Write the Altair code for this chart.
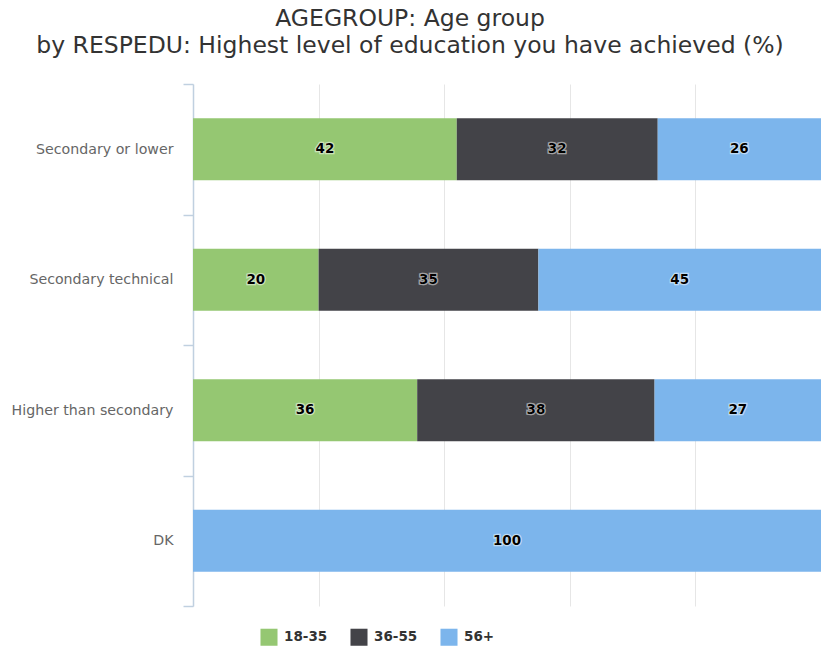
import altair as alt
import pandas as pd

categories = ["Secondary or lower", "Secondary technical", "Higher than secondary", "DK"]
groups = ["18-35", "36-55", "56+"]
colors = ["#95C772", "#434348", "#7CB5EC"]
values = {
    "18-35": [42, 20, 35.7, 0],
    "36-55": [32, 35, 37.8, 0],
    "56+":   [26, 45, 26.5, 100],
}

rows = []
for gi, g in enumerate(groups):
    for ci, c in enumerate(categories):
        v = values[g][ci]
        if v > 0:
            rows.append({"edu": c, "age": g, "value": v, "ord": gi})
df = pd.DataFrame(rows)

base = alt.Chart(df).transform_stack(
    stack="value", groupby=["edu"], as_=["x0", "x1"], offset="normalize",
    sort=[alt.SortField("ord", order="ascending")]
).transform_calculate(
    xm="(datum.x0 + datum.x1) / 2"
)

yscale = alt.Scale(paddingInner=0, paddingOuter=0)
yenc = alt.Y("edu:N", sort=categories, title=None, scale=yscale,
             axis=alt.Axis(domainColor="#C0D0E0", tickColor="#C0D0E0", tickSize=10,
                           tickBand="extent", labelFont="DejaVu Sans", labelFontSize=14.2,
                           labelColor="#666666", labelPadding=10, grid=False,
                           domainWidth=1.5, tickWidth=1.5))

xscale = alt.Scale(domain=[0, 1], nice=False)

bars = base.mark_bar(height=alt.RelativeBandSize(0.475)).encode(
    y=yenc,
    x=alt.X("x0:Q", scale=xscale, title=None,
            axis=alt.Axis(values=[0, 0.2, 0.4, 0.6, 0.8, 1.0], labels=False, ticks=False,
                          domain=False, grid=True, gridColor="#E6E6E6")),
    x2="x1:Q",
    color=alt.Color("age:N", scale=alt.Scale(domain=groups, range=colors),
                    legend=alt.Legend(title=None, orient="none", direction="horizontal",
                                      legendX=67, legendY=544, symbolType="square",
                                      symbolSize=290, symbolStrokeWidth=0,
                                      labelFont="DejaVu Sans", labelFontSize=13.5,
                                      labelFontWeight="bold", labelColor="#333333",
                                      columnPadding=22, labelOffset=6)),
)

halo = base.mark_text(font="DejaVu Sans", fontSize=13.5, fontWeight="bold",
                      stroke="white", strokeWidth=2.5, strokeOpacity=0.5, color="white").encode(
    y=alt.Y("edu:N", sort=categories, scale=yscale),
    x=alt.X("xm:Q", scale=xscale),
    text=alt.Text("value:Q", format=".0f"),
)
labels = base.mark_text(font="DejaVu Sans", fontSize=13.5, fontWeight="bold", color="#000000").encode(
    y=alt.Y("edu:N", sort=categories, scale=yscale),
    x=alt.X("xm:Q", scale=xscale),
    text=alt.Text("value:Q", format=".0f"),
)

chart = alt.layer(bars, halo, labels).properties(
    width=628, height=522,
    title=alt.TitleParams(
        text=["AGEGROUP: Age group",
              "by RESPEDU: Highest level of education you have achieved (%)"],
        font="DejaVu Sans", fontSize=23.5, fontWeight="normal", color="#333333",
        anchor="middle", dx=-97, offset=20, lineHeight=27),
    autosize=alt.AutoSizeParams(type="none"),
    padding={"left": 193, "top": 84, "right": 0, "bottom": 44},
).configure_view(stroke=None)

chart.save("out.html", embed_options={"renderer": "svg", "actions": False})
